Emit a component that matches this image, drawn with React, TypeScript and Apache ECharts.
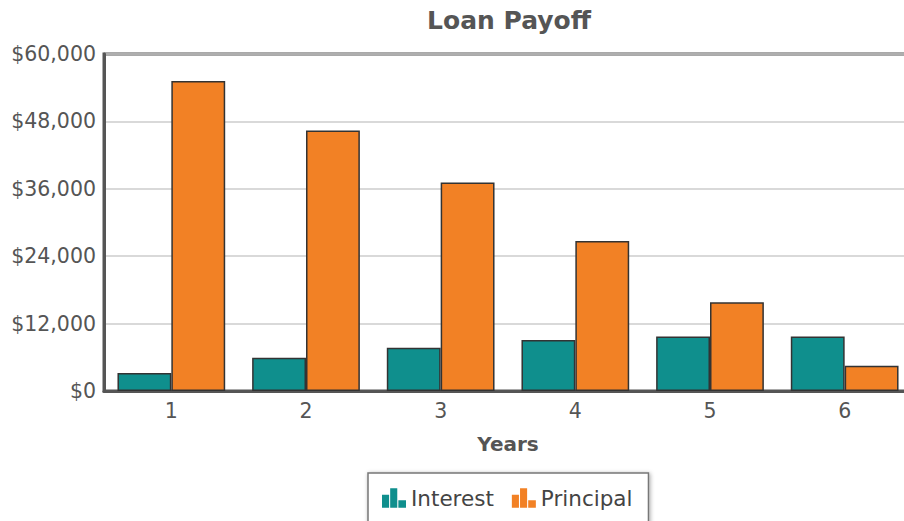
import React, { useEffect, useRef } from "react";
import * as echarts from "echarts";

const categories = ["1", "2", "3", "4", "5", "6"];
const interest = [3200, 5900, 7700, 9100, 9700, 9700];
const principal = [55200, 46400, 37100, 26700, 15800, 4500];
const seriesNames = ["Interest", "Principal"];

const barIcon =
  "path://M0,6h6.5v12h-6.5z M7.5,0h6.5v18h-6.5z M15,11h7v7h-7z";

export default function App() {
  const ref = useRef<HTMLDivElement>(null);
  useEffect(() => {
    if (!ref.current) return;
    const chart = echarts.init(ref.current, null, { renderer: "svg" });
    const font = "'DejaVu Sans', Verdana, sans-serif";
    chart.setOption({
      animation: false,
      title: {
        text: "Loan Payoff",
        left: 504,
        textAlign: "center",
        top: 3,
        textStyle: { fontFamily: font, fontSize: 25, fontWeight: "bold", color: "#555" },
      },
      grid: {
        left: 104,
        top: 54,
        bottom: 130,
        right: -8,
        outerBoundsMode: "none",
        containLabel: false,
        show: true,
        borderColor: "#555",
        borderWidth: 3,
        backgroundColor: "#fff",
      },
      legend: {
        data: seriesNames.map((n) => ({ name: n, icon: barIcon })),
        left: 368,
        top: 473,
        padding: [14, 16, 14, 14],
        itemWidth: 24,
        itemHeight: 20,
        itemGap: 18,
        itemStyle: { borderWidth: 0 },
        backgroundColor: "#fff",
        borderColor: "#777",
        borderWidth: 1.5,
        shadowBlur: 4,
        shadowColor: "rgba(0,0,0,0.35)",
        shadowOffsetX: 1,
        shadowOffsetY: 1,
        textStyle: { fontFamily: font, fontSize: 21.5, color: "#444" },
      },
      xAxis: {
        type: "category",
        data: categories,
        name: "Years",
        nameLocation: "middle",
        nameGap: 43,
        nameTextStyle: { fontFamily: font, fontSize: 20, fontWeight: "bold", color: "#555" },
        axisLine: { show: true, lineStyle: { color: "#555", width: 3 } },
        axisTick: { show: false },
        axisLabel: { fontFamily: font, fontSize: 20.5, color: "#555", margin: 9 },
      },
      yAxis: {
        type: "value",
        min: 0,
        max: 60000,
        interval: 12000,
        axisLine: { show: true, lineStyle: { color: "#555", width: 3 } },
        axisTick: { show: false },
        splitLine: { show: true, lineStyle: { color: "#ccc", width: 1.5 } },
        axisLabel: {
          fontFamily: font,
          fontSize: 20.5,
          color: "#555",
          margin: 8,
          formatter: (v: number) => "$" + v.toLocaleString("en-US"),
        },
      },
      series: [
        {
          name: seriesNames[0],
          type: "bar",
          data: interest,
          barGap: "0%",
          barCategoryGap: "20%",
          itemStyle: { color: "#0f8f8d", borderColor: "#333", borderWidth: 1.5 },
        },
        {
          name: seriesNames[1],
          type: "bar",
          data: principal,
          barGap: "0%",
          barCategoryGap: "20%",
          itemStyle: { color: "#f28125", borderColor: "#333", borderWidth: 1.5 },
        },
      ],
    });
    return () => chart.dispose();
  }, []);
  return (
    <div
      ref={ref}
      style={{ position: "fixed", left: 0, top: 0, width: 904, height: 521, background: "#fff" }}
    />
  );
}
